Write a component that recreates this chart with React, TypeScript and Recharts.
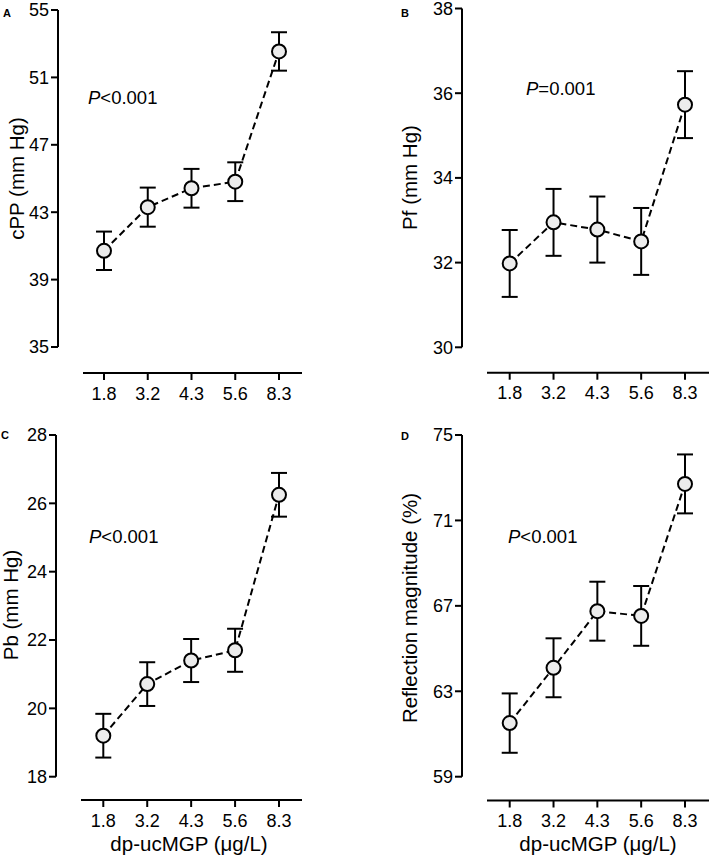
import React from 'react';
import { ComposedChart, Line, ErrorBar, XAxis, YAxis, ReferenceLine } from 'recharts';

const categories = ['1.8', '3.2', '4.3', '5.6', '8.3'];

const cppMean = [40.71, 43.3, 44.42, 44.81, 52.54];
const cppErr = [1.14, 1.16, 1.15, 1.15, 1.14];
const pfMean = [31.98, 32.95, 32.78, 32.5, 35.73];
const pfErr = [0.79, 0.79, 0.78, 0.79, 0.79];
const pbMean = [19.2, 20.71, 21.4, 21.7, 26.25];
const pbErr = [0.64, 0.64, 0.63, 0.63, 0.64];
const rmMean = [61.51, 64.1, 66.75, 66.53, 72.71];
const rmErr = [1.39, 1.38, 1.38, 1.4, 1.38];

const cppTicks = [35, 39, 43, 47, 51, 55];
const pfTicks = [30, 32, 34, 36, 38];
const pbTicks = [18, 20, 22, 24, 26, 28];
const rmTicks = [59, 63, 67, 71, 75];

const FONT = '"Liberation Sans", Arial, Helvetica, sans-serif';

type Geo = {
  box: { left: number; top: number; width: number; height: number };
  axisX: number; // y axis line x
  axisTop: number; // y of top tick
  axisBottom: number; // y of bottom tick
  baseY: number; // x axis line y
  lineStart: number; // x axis line left end
  firstTick: number;
  lastTick: number;
  right: number;
};

function Panel({ geo, ticks, means, errs }: { geo: Geo; ticks: number[]; means: number[]; errs: number[] }) {
  const { box } = geo;
  const n = categories.length;
  const step = (geo.lastTick - geo.firstTick) / (n - 1);
  const xLow = (geo.axisX - geo.firstTick) / step;
  const xHigh = n - 1 + (geo.right - geo.lastTick) / step;
  const xStart = (geo.lineStart - geo.firstTick) / step;
  const yMin = ticks[0];
  const yMax = ticks[ticks.length - 1];
  const yLow = yMin - ((geo.baseY - geo.axisBottom) * (yMax - yMin)) / (geo.axisBottom - geo.axisTop);

  const data = categories.map((c, i) => ({ idx: i, mean: means[i], err: errs[i] }));

  return (
    <div style={{ position: 'absolute', left: box.left, top: box.top }}>
      <ComposedChart
        width={box.width}
        height={box.height}
        data={data}
        margin={{ top: geo.axisTop - box.top, right: box.left + box.width - geo.right, bottom: 0, left: 0 }}
      >
        <XAxis
          dataKey="idx"
          type="number"
          domain={[xLow, xHigh]}
          allowDataOverflow
          ticks={[0, 1, 2, 3, 4]}
          interval={0}
          tickFormatter={(v) => categories[v] ?? ''}
          height={box.top + box.height - geo.baseY}
          axisLine={false}
          tickLine={{ stroke: '#000', strokeWidth: 2 }}
          tickSize={7}
          tickMargin={7}
          tick={{ fill: '#000', fontSize: 18, fontFamily: FONT }}
        />
        <YAxis
          type="number"
          domain={[yLow, yMax]}
          allowDataOverflow
          ticks={ticks}
          interval={0}
          width={geo.axisX - box.left}
          axisLine={false}
          tickLine={{ stroke: '#000', strokeWidth: 2 }}
          tickSize={7}
          tickMargin={2}
          tick={{ fill: '#000', fontSize: 18, fontFamily: FONT }}
        />
        <ReferenceLine
          segment={[{ x: xLow, y: yMin }, { x: xLow, y: yMax }]}
          stroke="#000"
          strokeWidth={2}
          ifOverflow="visible"
        />
        <ReferenceLine
          segment={[{ x: xStart, y: yLow }, { x: xHigh, y: yLow }]}
          stroke="#000"
          strokeWidth={2}
          ifOverflow="visible"
        />
        <Line
          dataKey="mean"
          stroke="#000"
          strokeWidth={2}
          strokeDasharray="7 4"
          dot={{ r: 7, fill: '#ececec', stroke: '#000', strokeWidth: 2, strokeDasharray: 'none' }}
          activeDot={false}
          isAnimationActive={false}
        >
          <ErrorBar dataKey="err" direction="y" width={8} stroke="#000" strokeWidth={2} />
        </Line>
      </ComposedChart>
    </div>
  );
}

const geoA: Geo = {
  box: { left: 0, top: 0, width: 354, height: 420 },
  axisX: 58, axisTop: 10, axisBottom: 347, baseY: 373,
  lineStart: 83, firstTick: 104, lastTick: 279, right: 302,
};
const geoB: Geo = {
  box: { left: 354, top: 0, width: 355, height: 420 },
  axisX: 462, axisTop: 8.5, axisBottom: 347.3, baseY: 372.7,
  lineStart: 487, firstTick: 509.7, lastTick: 685, right: 709,
};
const geoC: Geo = {
  box: { left: 0, top: 420, width: 354, height: 441 },
  axisX: 56, axisTop: 435, axisBottom: 776.7, baseY: 800,
  lineStart: 81, firstTick: 103.3, lastTick: 279, right: 302,
};
const geoD: Geo = {
  box: { left: 354, top: 420, width: 355, height: 441 },
  axisX: 462, axisTop: 435, axisBottom: 776.7, baseY: 800.5,
  lineStart: 487, firstTick: 509.7, lastTick: 685, right: 709,
};

function PText({ x, y, rest }: { x: number; y: number; rest: string }) {
  return (
    <text x={x} y={y} fontSize={18.5} fill="#000">
      <tspan fontStyle="italic">P</tspan>
      <tspan>{rest}</tspan>
    </text>
  );
}

function YLabel({ x, y, text }: { x: number; y: number; text: string }) {
  return (
    <text x={x} y={y} fontSize={20.5} fill="#000" textAnchor="middle" transform={`rotate(-90 ${x} ${y})`}>
      {text}
    </text>
  );
}

export default function App() {
  return (
    <div style={{ position: 'absolute', left: 0, top: 0, width: 709, height: 861, background: '#fff', fontFamily: FONT }}>
      <Panel geo={geoA} ticks={cppTicks} means={cppMean} errs={cppErr} />
      <Panel geo={geoB} ticks={pfTicks} means={pfMean} errs={pfErr} />
      <Panel geo={geoC} ticks={pbTicks} means={pbMean} errs={pbErr} />
      <Panel geo={geoD} ticks={rmTicks} means={rmMean} errs={rmErr} />
      <svg
        width={709}
        height={861}
        style={{ position: 'absolute', left: 0, top: 0, pointerEvents: 'none', fontFamily: FONT }}
      >
        <text x={3} y={17} fontSize={11} fontWeight="bold">A</text>
        <text x={401} y={17} fontSize={11} fontWeight="bold">B</text>
        <text x={1} y={439} fontSize={11} fontWeight="bold">C</text>
        <text x={401} y={440} fontSize={11} fontWeight="bold">D</text>

        <PText x={88} y={104} rest="<0.001" />
        <PText x={526} y={95} rest="=0.001" />
        <PText x={89} y={543} rest="<0.001" />
        <PText x={508} y={543} rest="<0.001" />

        <YLabel x={24} y={178.5} text="cPP (mm Hg)" />
        <YLabel x={417} y={177.5} text="Pf (mm Hg)" />
        <YLabel x={18} y={605} text="Pb (mm Hg)" />
        <YLabel x={417} y={608} text="Reflection magnitude (%)" />

        <text x={189} y={851} fontSize={20.5} textAnchor="middle">dp-ucMGP (μg/L)</text>
        <text x={598} y={851} fontSize={20.5} textAnchor="middle">dp-ucMGP (μg/L)</text>
      </svg>
    </div>
  );
}
